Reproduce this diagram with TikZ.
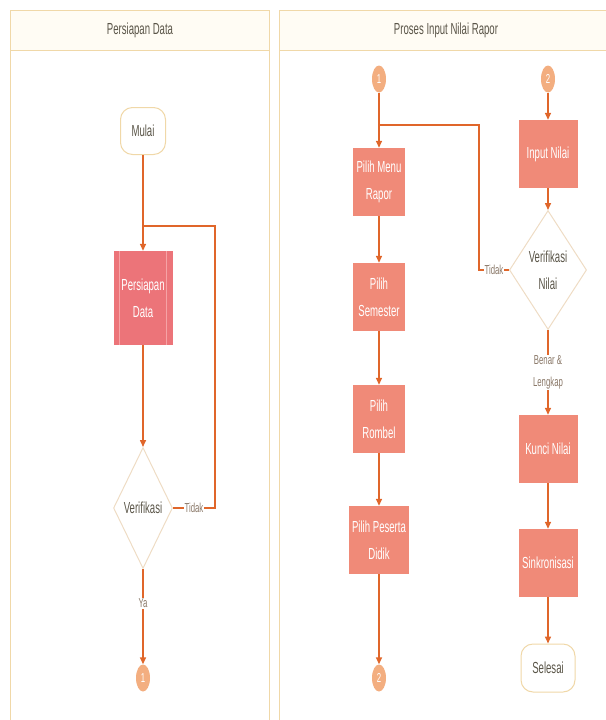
\documentclass[tikz,border=0pt]{standalone}
\usepackage{fontspec}
\setmainfont{Liberation Sans}[FakeStretch=0.6]
\usetikzlibrary{shapes.geometric,arrows.meta,positioning,calc}
\usepackage{xcolor}
\definecolor{garis}{HTML}{E0662A}
\definecolor{tepi}{HTML}{F0D8A8}
\definecolor{kepala}{HTML}{FFFCF4}
\definecolor{merah}{HTML}{EC7479}
\definecolor{merahmuda}{HTML}{F6A3A6}
\definecolor{salem}{HTML}{F08A78}
\definecolor{jingga}{HTML}{F3AE80}
\definecolor{teks}{HTML}{5A5548}
\definecolor{abu}{HTML}{8A7868}
\definecolor{tepibelah}{HTML}{EEDCC4}
\begin{document}
\begin{tikzpicture}[x=1pt,y=-1pt,
  judul/.style={text=teks,font=\fontsize{16}{20}\selectfont},
  proses/.style={fill=salem,text=white,minimum width=52,minimum height=68,inner sep=1pt,align=center,font=\fontsize{16}{27}\selectfont},
  subproses/.style={proses,fill=merah,minimum width=59,minimum height=94},
  terminal/.style={draw=tepi,line width=1pt,fill=white,rounded corners=12pt,text=teks,minimum width=45,minimum height=47,font=\fontsize{16}{20}\selectfont},
  keputusan/.style={diamond,draw=tepibelah,line width=1pt,inner sep=0pt,text=teks,align=center,minimum width=59,minimum height=121,font=\fontsize{16}{27}\selectfont},
  penghubung/.style={ellipse,fill=jingga,text=white,inner sep=0pt,minimum width=14,minimum height=27,font=\fontsize{13}{14}\selectfont},
  garisan/.style={draw=garis,line width=1.5pt},
  alur/.style={garisan,-{Triangle[width=6pt,length=7pt]}},
  lbl/.style={fill=white,text=abu,inner sep=1pt,align=center,font=\fontsize{13}{22}\selectfont}]
\useasboundingbox (0,0) rectangle (605,720);
%jalur (swimlane)
\draw[tepi,line width=1pt,fill=kepala] (10,10) rectangle (269,50);
\draw[tepi,line width=1pt] (10,50) -- (10,725) (269,50) -- (269,725);
\draw[tepi,line width=1pt,fill=kepala] (279,10) rectangle (615,50);
\draw[tepi,line width=1pt] (279,50) -- (279,725);
\node[judul] (judul1) at (140,30) {Persiapan Data};
\node[judul] (judul2) at (446,30) {Proses Input Nilai Rapor};
%persiapan data
\node[terminal] (mulai) at (143,131) {Mulai};
\coordinate (simpul1) at (143,226);
\node[subproses] (persiapan) at (143,298) {Persiapan\\Data};
\draw[merahmuda,line width=1pt] ([xshift=6pt]persiapan.north west) -- ([xshift=6pt]persiapan.south west);
\draw[merahmuda,line width=1pt] ([xshift=-6pt]persiapan.north east) -- ([xshift=-6pt]persiapan.south east);
\node[keputusan] (verif) at (143,508) {Verifikasi};
\node[penghubung] (ke1) at (143,678) {1};
\coordinate (belok1) at (215,508);
\draw[alur] (mulai) -- (persiapan);
\draw[alur] (persiapan) -- (verif);
\draw[garisan] (verif) -- node[lbl]{Tidak} (belok1) |- (simpul1);
\draw[alur] (verif) -- node[lbl,pos=0.36]{Ya} (ke1);
%proses input nilai rapor
\node[penghubung] (dari1) at (379,79) {1};
\node[penghubung] (dari2) at (548,79) {2};
\coordinate (simpul2) at (379,125);
\node[proses] (menu) at (379,182) {Pilih Menu\\Rapor};
\node[proses] (semester) at (379,297) {Pilih\\Semester};
\node[proses] (rombel) at (379,419) {Pilih\\Rombel};
\node[proses,minimum width=60] (peserta) at (379,540) {Pilih Peserta\\Didik};
\node[penghubung] (ke2) at (379,678) {2};
\node[proses,minimum width=59] (input) at (548,154) {Input Nilai};
\node[keputusan,minimum width=60,minimum height=119] (vnilai) at (548,270) {Verifikasi\\Nilai};
\node[proses,minimum width=59] (kunci) at (548,449) {Kunci Nilai};
\node[proses,minimum width=59] (sinkron) at (548,563) {Sinkronisasi};
\node[terminal,minimum width=54,minimum height=48] (selesai) at (548,668) {Selesai};
\coordinate (belok2) at (479,270);
\draw[alur] (dari1) -- (menu);
\draw[garisan] (vnilai) -- node[lbl]{Tidak} (belok2) |- (simpul2);
\draw[alur] (menu) -- (semester);
\draw[alur] (semester) -- (rombel);
\draw[alur] (rombel) -- (peserta);
\draw[alur] (peserta) -- (ke2);
\draw[alur] (dari2) -- (input);
\draw[alur] (input) -- (vnilai);
\draw[alur] (vnilai) -- node[lbl]{Benar \&\\Lengkap} (kunci);
\draw[alur] (kunci) -- (sinkron);
\draw[alur] (sinkron) -- (selesai);
\end{tikzpicture}
\end{document}
